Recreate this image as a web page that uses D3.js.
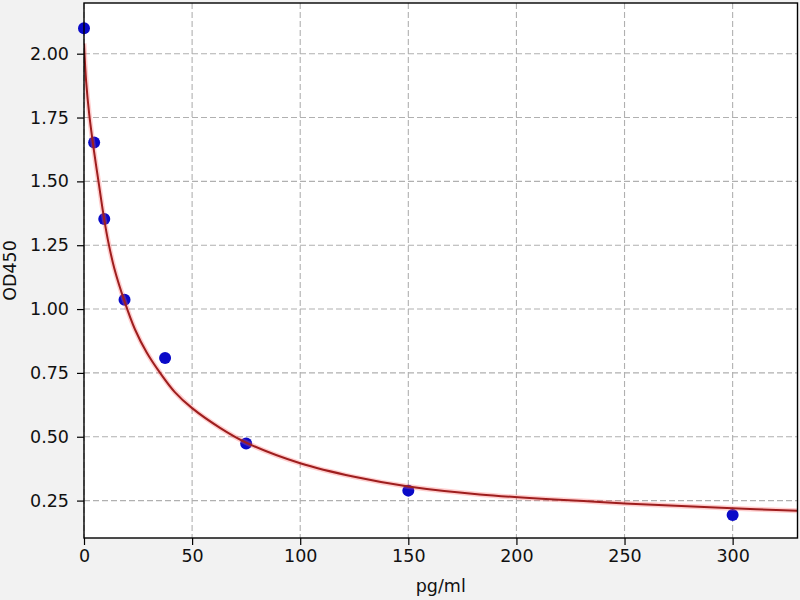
<!DOCTYPE html>
<html>
<head>
<meta charset="utf-8">
<script src="https://cdn.jsdelivr.net/npm/d3@7"></script>
<style>
  html, body { margin: 0; padding: 0; background: #f2f2f2; }
  svg { display: block; font-family: "DejaVu Sans", sans-serif; }
</style>
</head>
<body>
<div id="chart"></div>
<script>
// standard curve points (concentration in pg/ml, optical density)
const concentrations = [0, 4.6875, 9.375, 18.75, 37.5, 75, 150, 300];
const odValues = [2.10, 1.652, 1.353, 1.036, 0.808, 0.474, 0.289, 0.194];

// fitted curve
const fitX = [0, 1, 2.45, 4.69, 6.7, 9.375, 11.3, 14, 18.75, 23.6, 29, 35.2, 42, 50, 62.9, 75, 100, 125, 150, 183, 250, 300, 330];
const fitY = [2.04, 1.89, 1.76, 1.615, 1.5, 1.35, 1.26, 1.16, 1.03, 0.92, 0.83, 0.75, 0.675, 0.612, 0.535, 0.477, 0.396, 0.343, 0.305, 0.274, 0.239, 0.22, 0.21];

// tick labels
const xTicks = [0, 50, 100, 150, 200, 250, 300];
const yTicks = [0.25, 0.5, 0.75, 1.0, 1.25, 1.5, 1.75, 2.0];

const width = 800;
const height = 600;
const plot = { left: 84, right: 797.5, top: 3, bottom: 538 };
const fontSize = 17.5;

var svg = d3.select("#chart")
  .append("svg")
  .attr("width", width)
  .attr("height", height);

var x = d3.scaleLinear().domain([0, 330]).range([plot.left, plot.right]);
var y = d3.scaleLinear().domain([0.1035, 2.1985]).range([plot.bottom, plot.top]);

// axes background
svg.append("rect")
  .attr("x", plot.left)
  .attr("y", plot.top)
  .attr("width", plot.right - plot.left)
  .attr("height", plot.bottom - plot.top)
  .attr("fill", "white");

svg.append("clipPath")
  .attr("id", "plot-clip")
  .append("rect")
  .attr("x", plot.left)
  .attr("y", plot.top)
  .attr("width", plot.right - plot.left)
  .attr("height", plot.bottom - plot.top);

// dashed grid
var grid = svg.append("g").attr("id", "grid");
grid.selectAll("line.vgrid")
  .data(xTicks)
  .enter()
  .append("line")
  .attr("class", "vgrid")
  .attr("x1", function(d) { return x(d); })
  .attr("x2", function(d) { return x(d); })
  .attr("y1", plot.top)
  .attr("y2", plot.bottom);
grid.selectAll("line.hgrid")
  .data(yTicks)
  .enter()
  .append("line")
  .attr("class", "hgrid")
  .attr("x1", plot.left)
  .attr("x2", plot.right)
  .attr("y1", function(d) { return y(d); })
  .attr("y2", function(d) { return y(d); });
grid.selectAll("line")
  .attr("stroke", "#b0b0b0")
  .attr("stroke-width", 1.1)
  .attr("stroke-dasharray", "6,3");

// measured points
svg.append("g")
  .attr("id", "points")
  .selectAll("circle")
  .data(concentrations)
  .enter()
  .append("circle")
  .attr("cx", function(d) { return x(d); })
  .attr("cy", function(d, i) { return y(odValues[i]); })
  .attr("r", 6)
  .attr("fill", "#0a0ac8");

// fitted curve: soft halo then the line itself
var fitLine = d3.line()
  .x(function(d) { return x(d); })
  .y(function(d, i) { return y(fitY[i]); })
  .curve(d3.curveCatmullRom.alpha(0.5));

var curveGroup = svg.append("g").attr("clip-path", "url(#plot-clip)");
curveGroup.append("path")
  .datum(fitX)
  .attr("d", fitLine)
  .attr("fill", "none")
  .attr("stroke", "#ff6060")
  .attr("stroke-opacity", 0.3)
  .attr("stroke-width", 5);
curveGroup.append("path")
  .datum(fitX)
  .attr("d", fitLine)
  .attr("fill", "none")
  .attr("stroke", "#9e1e1e")
  .attr("stroke-width", 2);

// axes
var xAxis = d3.axisBottom(x)
  .tickValues(xTicks)
  .tickSize(7)
  .tickPadding(5)
  .tickFormat(d3.format("d"));
var yAxis = d3.axisLeft(y)
  .tickValues(yTicks)
  .tickSize(7)
  .tickPadding(8)
  .tickFormat(d3.format(".2f"));

svg.append("g")
  .attr("transform", "translate(0," + plot.bottom + ")")
  .call(xAxis);
svg.append("g")
  .attr("transform", "translate(" + plot.left + ",0)")
  .call(yAxis);

svg.selectAll(".domain").remove();
svg.selectAll(".tick line").attr("stroke", "black").attr("stroke-width", 1.2);
svg.selectAll(".tick text")
  .attr("fill", "#111")
  .style("font-size", fontSize + "px")
  .style("font-family", "'DejaVu Sans', sans-serif");

// frame around the plot
svg.append("rect")
  .attr("x", plot.left)
  .attr("y", plot.top)
  .attr("width", plot.right - plot.left)
  .attr("height", plot.bottom - plot.top)
  .attr("fill", "none")
  .attr("stroke", "black")
  .attr("stroke-width", 1.4);

// axis titles
svg.append("text")
  .attr("x", (plot.left + plot.right) / 2)
  .attr("y", 592)
  .attr("text-anchor", "middle")
  .attr("fill", "#111")
  .style("font-size", fontSize + "px")
  .text("pg/ml");

svg.append("text")
  .attr("transform", "translate(15.5," + (plot.top + plot.bottom) / 2 + ") rotate(-90)")
  .attr("text-anchor", "middle")
  .attr("fill", "#111")
  .style("font-size", fontSize + "px")
  .text("OD450");
</script>
</body>
</html>
